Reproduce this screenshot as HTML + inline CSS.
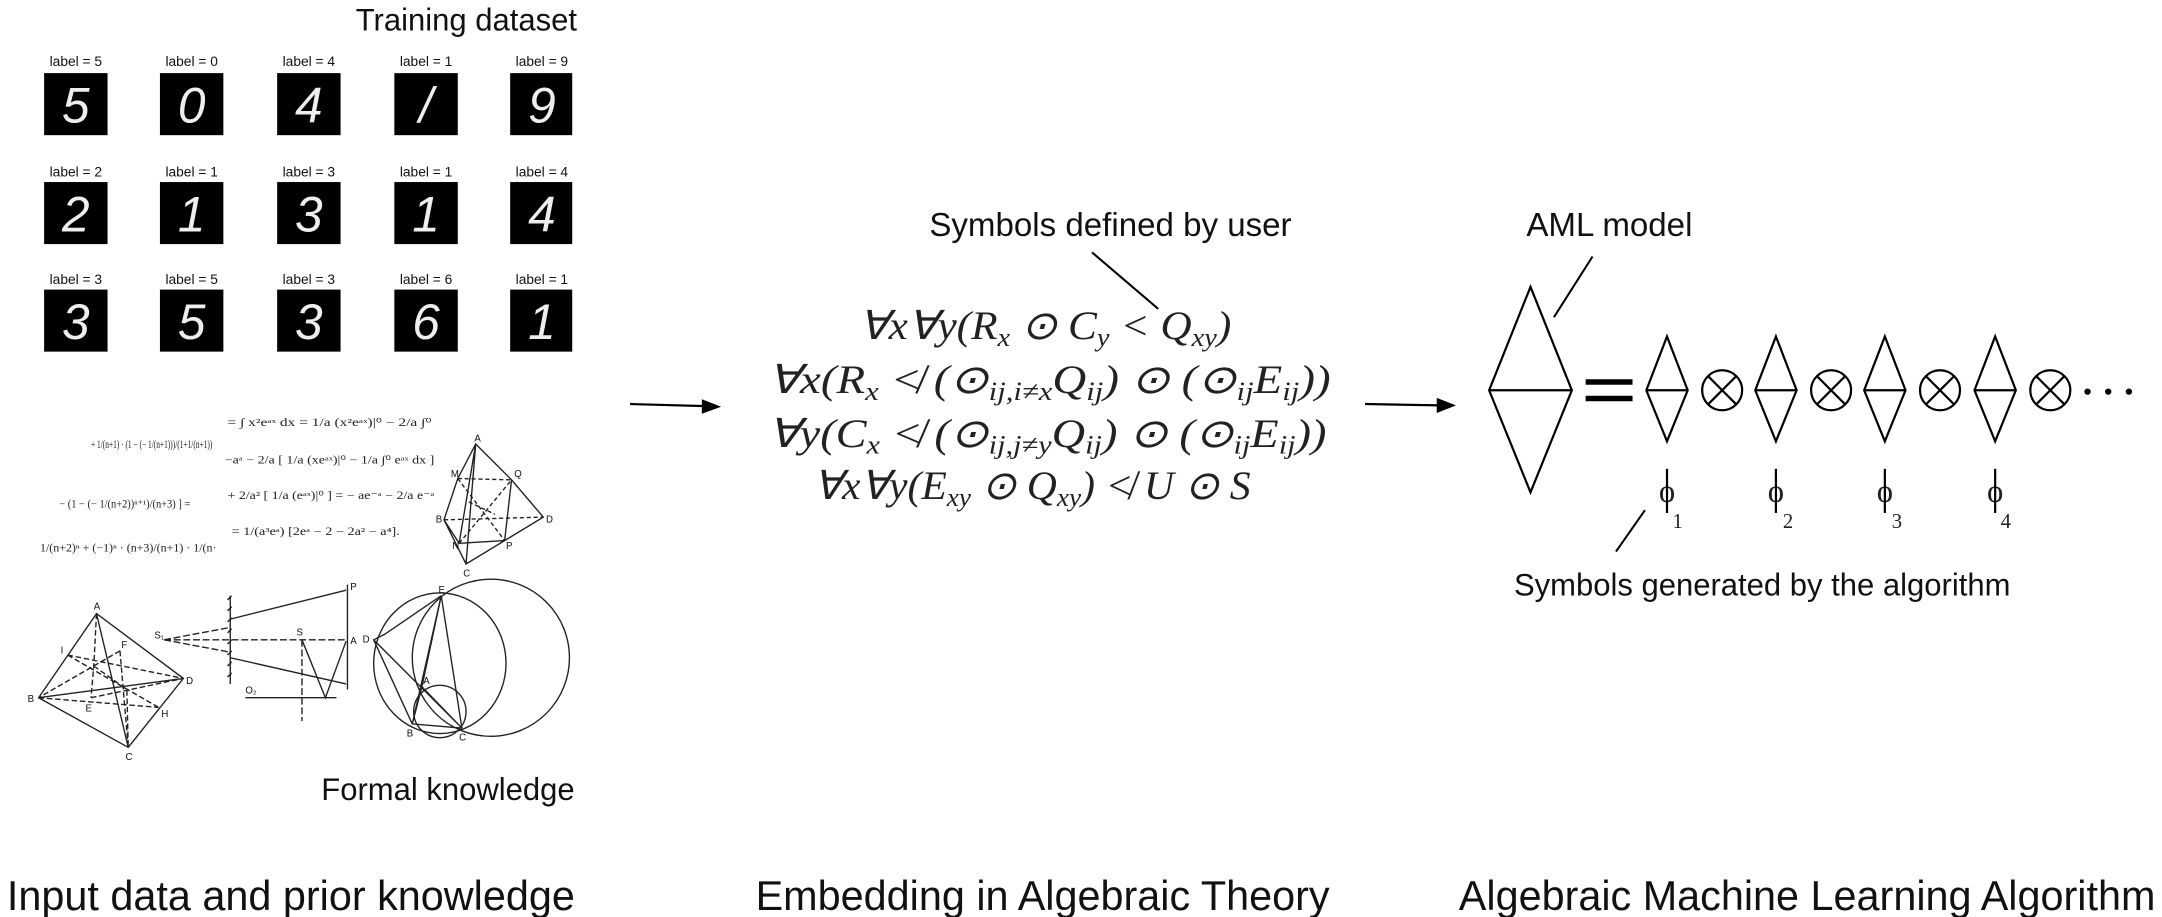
<!DOCTYPE html>
<html><head><meta charset="utf-8"><style>
html,body{margin:0;padding:0;background:#fff;}
svg{display:block}
.s{font-family:"Liberation Sans",sans-serif;fill:#111}
.m{font-family:"Liberation Serif",serif;fill:#222}
.d{font-family:"Liberation Sans",sans-serif;fill:#eee;font-style:italic}
</style></head><body>
<svg width="2162" height="917" viewBox="0 0 1568 665" xmlns="http://www.w3.org/2000/svg">
<rect width="1568" height="665" fill="#fff"/>
<text class="s" x="258" y="22" font-size="22.5">Training dataset</text>
<g font-size="10" class="s" text-anchor="middle">
<text x="55" y="48">label = 5</text><text x="139" y="48">label = 0</text><text x="224" y="48">label = 4</text><text x="309" y="48">label = 1</text><text x="393" y="48">label = 9</text>
<text x="55" y="128">label = 2</text><text x="139" y="128">label = 1</text><text x="224" y="128">label = 3</text><text x="309" y="128">label = 1</text><text x="393" y="128">label = 4</text>
<text x="55" y="206">label = 3</text><text x="139" y="206">label = 5</text><text x="224" y="206">label = 3</text><text x="309" y="206">label = 6</text><text x="393" y="206">label = 1</text>
</g>
<g fill="#000">
<rect x="32" y="53" width="46" height="45"/><rect x="116" y="53" width="46" height="45"/><rect x="201" y="53" width="46" height="45"/><rect x="286" y="53" width="46" height="45"/><rect x="370" y="53" width="45" height="45"/>
<rect x="32" y="132" width="46" height="45"/><rect x="116" y="132" width="46" height="45"/><rect x="201" y="132" width="46" height="45"/><rect x="286" y="132" width="46" height="45"/><rect x="370" y="132" width="45" height="45"/>
<rect x="32" y="210" width="46" height="45"/><rect x="116" y="210" width="46" height="45"/><rect x="201" y="210" width="46" height="45"/><rect x="286" y="210" width="46" height="45"/><rect x="370" y="210" width="45" height="45"/>
</g>
<g class="d" font-size="36" text-anchor="middle">
<text x="55" y="89">5</text><text x="139" y="89">0</text><text x="224" y="89">4</text><text x="309" y="89">/</text><text x="393" y="89">9</text>
<text x="55" y="168">2</text><text x="139" y="168">1</text><text x="224" y="168">3</text><text x="309" y="168">1</text><text x="393" y="168">4</text>
<text x="55" y="246">3</text><text x="139" y="246">5</text><text x="224" y="246">3</text><text x="309" y="246">6</text><text x="393" y="246">1</text>
</g>
<!-- formulas block -->
<g class="m" font-size="8" fill="#333">
<text x="66" y="325" textLength="88" lengthAdjust="spacingAndGlyphs">+ 1/(n+1) · (1 − (− 1/(n+1)))/(1+1/(n+1))</text>
<text x="43" y="368" textLength="95" lengthAdjust="spacingAndGlyphs">− (1 − (− 1/(n+2))ⁿ⁺¹)/(n+3) ] =</text>
<text x="29" y="400" textLength="128" lengthAdjust="spacingAndGlyphs">1/(n+2)ⁿ + (−1)ⁿ · (n+3)/(n+1) · 1/(n·</text>
<text x="165" y="309" textLength="148" lengthAdjust="spacingAndGlyphs">= ∫ x²eᵃˣ dx = 1/a (x²eᵃˣ)|⁰ − 2/a ∫⁰</text>
<text x="163" y="336" textLength="152" lengthAdjust="spacingAndGlyphs">−aᵃ − 2/a [ 1/a (xeᵃˣ)|⁰ − 1/a ∫⁰ eᵃˣ dx ]</text>
<text x="165" y="362" textLength="150" lengthAdjust="spacingAndGlyphs">+ 2/a² [ 1/a (eᵃˣ)|⁰ ] = − ae⁻ᵃ − 2/a e⁻ᵃ</text>
<text x="168" y="388" textLength="122" lengthAdjust="spacingAndGlyphs">= 1/(a³eᵃ) [2eᵃ − 2 − 2a² − a⁴].</text>
</g>
<g stroke="#222" fill="none" stroke-width="1">
<!-- top-right tetrahedron -->
<path d="M345 322 L332 347 L322 377 L338 409 L394 375 L371 348 Z M345 322 L338 409 M345 322 L333 394 M322 377 L333 394 L366 392 L394 375 M366 392 L371 348"/>
<path d="M332 347 L371 348 M322 377 L394 375 M333 394 L371 348 M332 347 L366 392 M340 364 L359 373" stroke-dasharray="3,2"/>
<!-- bottom-left tetrahedron -->
<path d="M70 445 L28 506 L93 542 L133 492 Z M70 445 L93 542 M28 506 L133 492"/>
<path d="M70 445 L68 483 L66 506 M49 475 L133 492 M87 472 L28 506 M49 475 L115 513 M87 472 L93 542 M28 506 L115 513 M66 506 L133 492 M68 483 L92 500 L93 542" stroke-dasharray="4,2"/>
<!-- mirror figure -->
<path d="M167 432 L167 496 M167 449 L251 428 M167 477 L251 496 M252 424 L252 500 M178 506 L244 506 M219 464 L236 506 L251 465"/>
<path d="M119 464 L167 455 M119 464 L167 473 M119 464 L252 464 M219 464 L219 523" stroke-dasharray="5,2"/>
<path d="M168 432 l-3 3 M168 440 l-3 3 M168 448 l-3 3 M168 456 l-3 3 M168 464 l-3 3 M168 472 l-3 3 M168 480 l-3 3 M168 488 l-3 3"/>
<!-- circles -->
<circle cx="356" cy="477" r="57"/>
<ellipse cx="319" cy="481" rx="48" ry="51"/>
<circle cx="319" cy="516" r="19"/>
<path d="M320 432 L299 525 L335 528 Z M320 432 L279 460 L271 464 L299 525 M271 464 L335 528 M306 498 L299 525 M306 498 L335 528 M320 432 L306 498"/>
</g>
<g class="s" font-size="7">
<text x="344" y="320">A</text><text x="316" y="379">B</text><text x="336" y="418">C</text><text x="396" y="379">D</text><text x="373" y="346">Q</text><text x="327" y="346">M</text><text x="328" y="398">N</text><text x="367" y="398">P</text>
<text x="68" y="442">A</text><text x="20" y="509">B</text><text x="91" y="551">C</text><text x="135" y="496">D</text><text x="44" y="474">I</text><text x="88" y="470">F</text><text x="117" y="520">H</text><text x="62" y="516">E</text>
<text x="254" y="428">P</text><text x="254" y="467">A</text><text x="215" y="461">S</text><text x="112" y="463">S₁</text><text x="178" y="503">O₂</text>
<text x="318" y="430">E</text><text x="263" y="466">D</text><text x="295" y="534">B</text><text x="333" y="537">C</text><text x="307" y="496">A</text>
</g>
<text class="s" x="233" y="580" font-size="22.5">Formal knowledge</text>
<!-- arrows -->
<g stroke="#000" stroke-width="1.6"><line x1="457" y1="293" x2="512" y2="294.5"/><line x1="990" y1="293" x2="1045" y2="294"/></g>
<path d="M523 295 L509 289.5 L509 300 Z M1056 294 L1042 288.5 L1042 299.5 Z" fill="#000"/>
<text class="s" x="674" y="171" font-size="24">Symbols defined by user</text>
<line x1="792" y1="183" x2="840" y2="224" stroke="#000" stroke-width="1.5"/>
<g class="m" font-size="29" font-style="italic">
<text x="623" y="246" textLength="270" lengthAdjust="spacingAndGlyphs">∀x∀y(R<tspan font-size="19" dy="5">x</tspan><tspan dy="-5"> ⊙ C</tspan><tspan font-size="19" dy="5">y</tspan><tspan dy="-5"> &lt; Q</tspan><tspan font-size="19" dy="5">xy</tspan><tspan dy="-5">)</tspan></text>
<text x="557" y="285" textLength="408" lengthAdjust="spacingAndGlyphs">∀x(R<tspan font-size="19" dy="5">x</tspan><tspan dy="-5"> ≮ (⊙</tspan><tspan font-size="19" dy="5">ij,i≠x</tspan><tspan dy="-5">Q</tspan><tspan font-size="19" dy="5">ij</tspan><tspan dy="-5">) ⊙ (⊙</tspan><tspan font-size="19" dy="5">ij</tspan><tspan dy="-5">E</tspan><tspan font-size="19" dy="5">ij</tspan><tspan dy="-5">))</tspan></text>
<text x="557" y="324" textLength="405" lengthAdjust="spacingAndGlyphs">∀y(C<tspan font-size="19" dy="5">x</tspan><tspan dy="-5"> ≮ (⊙</tspan><tspan font-size="19" dy="5">ij,j≠y</tspan><tspan dy="-5">Q</tspan><tspan font-size="19" dy="5">ij</tspan><tspan dy="-5">) ⊙ (⊙</tspan><tspan font-size="19" dy="5">ij</tspan><tspan dy="-5">E</tspan><tspan font-size="19" dy="5">ij</tspan><tspan dy="-5">))</tspan></text>
<text x="590" y="362" textLength="317" lengthAdjust="spacingAndGlyphs">∀x∀y(E<tspan font-size="19" dy="5">xy</tspan><tspan dy="-5"> ⊙ Q</tspan><tspan font-size="19" dy="5">xy</tspan><tspan dy="-5">) ≮ U ⊙ S</tspan></text>
</g>
<!-- AML -->
<text class="s" x="1107" y="171" font-size="24">AML model</text>
<line x1="1155" y1="186" x2="1127" y2="230" stroke="#000" stroke-width="1.5"/>
<g stroke="#000" fill="none" stroke-width="1.6">
<path d="M1110 208 L1140 283 L1110 357 L1080 283 Z M1080 283 L1140 283"/>
<path d="M1209 244 L1224 283 L1209 320 L1194 283 Z M1194 283 L1224 283"/>
<path d="M1288 244 L1303 283 L1288 320 L1273 283 Z M1273 283 L1303 283"/>
<path d="M1367 244 L1382 283 L1367 320 L1352 283 Z M1352 283 L1382 283"/>
<path d="M1447 244 L1462 283 L1447 320 L1432 283 Z M1432 283 L1462 283"/>
<circle cx="1249" cy="283" r="14.5"/><path d="M1239 273 L1259 293 M1259 273 L1239 293"/>
<circle cx="1328" cy="283" r="14.5"/><path d="M1318 273 L1338 293 M1338 273 L1318 293"/>
<circle cx="1407" cy="283" r="14.5"/><path d="M1397 273 L1417 293 M1417 273 L1397 293"/>
<circle cx="1487" cy="283" r="14.5"/><path d="M1477 273 L1497 293 M1497 273 L1477 293"/>
</g>
<g stroke="#000" stroke-width="4"><line x1="1150" y1="277" x2="1184" y2="277"/><line x1="1150" y1="289" x2="1184" y2="289"/></g>
<g fill="#000"><circle cx="1514" cy="284" r="2.3"/><circle cx="1529" cy="284" r="2.3"/><circle cx="1544" cy="284" r="2.3"/></g>
<g class="m" font-size="24" text-anchor="middle">
<text x="1209" y="364">o</text><text x="1288" y="364">o</text><text x="1367" y="364">o</text><text x="1447" y="364">o</text>
</g>
<g stroke="#000" stroke-width="1.6">
<line x1="1209" y1="340" x2="1209" y2="372"/><line x1="1288" y1="340" x2="1288" y2="372"/><line x1="1367" y1="340" x2="1367" y2="372"/><line x1="1447" y1="340" x2="1447" y2="372"/>
</g>
<g class="m" font-size="15" fill="#444">
<text x="1213" y="383">1</text><text x="1293" y="383">2</text><text x="1372" y="383">3</text><text x="1451" y="383">4</text>
</g>
<line x1="1193" y1="370" x2="1172" y2="400" stroke="#000" stroke-width="1.5"/>
<text class="s" x="1098" y="432" font-size="22.5">Symbols generated by the algorithm</text>
<g class="s" font-size="30">
<text x="5" y="660">Input data and prior knowledge</text>
<text x="548" y="660">Embedding in Algebraic Theory</text>
<text x="1058" y="660">Algebraic Machine Learning Algorithm</text>
</g>
</svg>
</body></html>
